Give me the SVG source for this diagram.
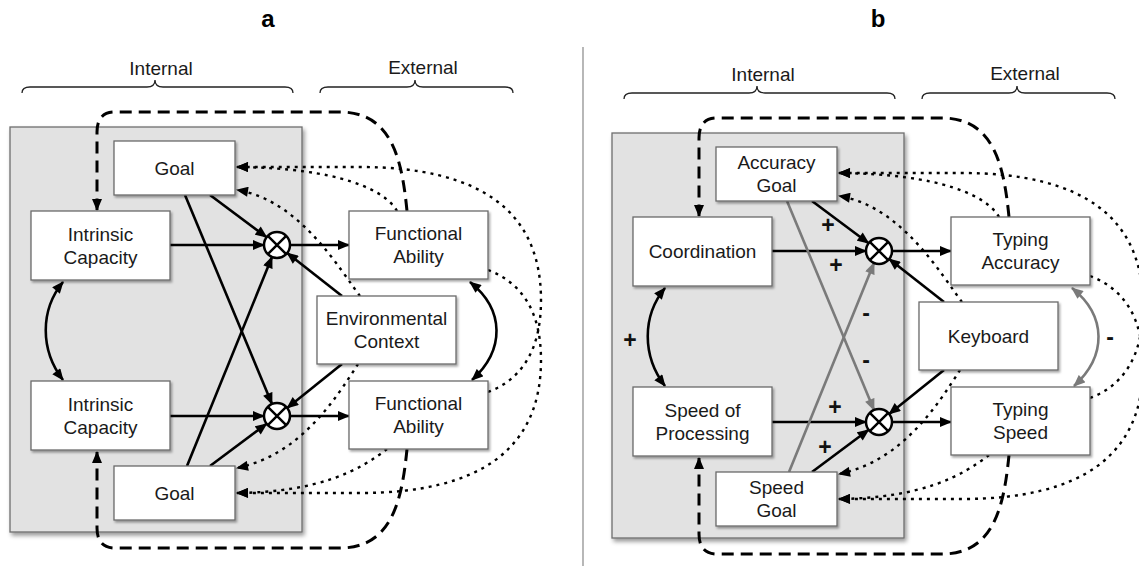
<svg xmlns="http://www.w3.org/2000/svg" width="1139" height="566" viewBox="0 0 1139 566">
<style>
.bg{fill:#fff}
.panel{fill:#e2e2e2;stroke:#6e6e6e;stroke-width:1.3;filter:url(#sh2)}
.box{fill:#fff;stroke:#6a6a6a;stroke-width:1.3;filter:url(#sh)}
.lbl{font-family:"Liberation Sans",Arial,Helvetica,sans-serif;font-size:19px;text-anchor:middle;fill:#1a1a1a}
.title{font-family:"Liberation Sans",Arial,Helvetica,sans-serif;font-size:24px;font-weight:bold;text-anchor:middle;fill:#000}
.sign{font-family:"Liberation Sans",Arial,Helvetica,sans-serif;font-size:23px;font-weight:bold;text-anchor:middle;fill:#111}
.brace{fill:none;stroke:#222;stroke-width:1.3}
.arr{fill:none;stroke:#000;stroke-width:2.6;marker-end:url(#ah)}
.garr{fill:none;stroke:#7a7a7a;stroke-width:2.6;marker-end:url(#gah)}
.dbl{fill:none;stroke:#000;stroke-width:2.6;marker-start:url(#ah);marker-end:url(#ah)}
.gdbl{fill:none;stroke:#7a7a7a;stroke-width:2.6;marker-start:url(#gah);marker-end:url(#gah)}
.dash{fill:none;stroke:#000;stroke-width:3;stroke-dasharray:12 7;marker-end:url(#ah)}
.dot{fill:none;stroke:#000;stroke-width:2.4;stroke-dasharray:3 5;marker-end:url(#ah)}
.mc{fill:#fff;stroke:#000;stroke-width:2.5}
.mx{stroke:#000;stroke-width:2.5}
</style>
<defs>
<marker id="ah" viewBox="0 0 12 10" refX="11" refY="5" markerWidth="13" markerHeight="10" markerUnits="userSpaceOnUse" orient="auto-start-reverse"><path d="M0,0 L12,5 L0,10 z" fill="#000"/></marker>
<marker id="gah" viewBox="0 0 12 10" refX="11" refY="5" markerWidth="13" markerHeight="10" markerUnits="userSpaceOnUse" orient="auto-start-reverse"><path d="M0,0 L12,5 L0,10 z" fill="#7a7a7a"/></marker>
<filter id="sh" x="-10%" y="-10%" width="130%" height="130%"><feDropShadow dx="1.5" dy="2" stdDeviation="1.2" flood-color="#000" flood-opacity="0.35"/></filter>
<filter id="sh2" x="-5%" y="-5%" width="115%" height="115%"><feDropShadow dx="2" dy="3" stdDeviation="2" flood-color="#000" flood-opacity="0.4"/></filter>
</defs>
<rect class="bg" x="0" y="0" width="1139" height="566"/>
<line x1="583" y1="47" x2="583" y2="566" stroke="#888" stroke-width="1.2"/>
<text class="title" x="268" y="27">a</text>
<text class="title" x="878" y="27">b</text>

<!-- Panel a -->
<g id="panel-a">
  <g id="a-headers">
    <text class="lbl" x="161" y="75">Internal</text>
    <path class="brace" d="M22,93 Q22,87 30,87 L147,87 Q155,87 155,80 Q155,87 163,87 L285,87 Q293,87 293,93"/>
    <text class="lbl" x="423" y="74">External</text>
    <path class="brace" d="M320,93 Q320,87 328,87 L407,87 Q415,87 415,80 Q415,87 423,87 L505,87 Q513,87 513,93"/>
  </g>
  <rect id="a-internal-panel" class="panel" x="10" y="127" width="292" height="405"/>
  <g id="a-connectors">
    <path class="arr" d="M170,245 L264,245"/>
    <path class="arr" d="M290,245 L349,245"/>
    <path class="arr" d="M170,416 L264,416"/>
    <path class="arr" d="M290,416 L349,416"/>
    <path class="arr" d="M210,195 L266.6,237.2"/>
    <path class="arr" d="M185,195 L272,404"/>
    <path class="arr" d="M187,466 L272,257"/>
    <path class="arr" d="M210,466 L266.6,423.8"/>
    <path class="arr" d="M342,296 L287.2,253"/>
    <path class="arr" d="M342,364 L287.2,407.9"/>
    <path class="dbl" d="M63,282 C40,310 40,350 63,380"/>
    <path class="dbl" d="M470,282 C505,310 505,350 472,380"/>
    <path class="dash" d="M407,211 C402,160 392,112 340,112 L115,112 Q97,112 97,132 L97,210"/>
    <path class="dash" d="M407,449 C402,500 392,548 340,548 L115,548 Q97,548 97,528 L97,452"/>
    <path class="dot" d="M397,211 C385,190 340,168 237,167"/>
    <path class="dot" d="M488,392 Q541,372 541,300 Q541,167 360,167 L237,167"/>
    <path class="dot" d="M488,270 Q541,290 541,360 Q541,493 360,493 L237,493"/>
    <path class="dot" d="M387,449 C360,470 320,492 237,493"/>
    <path class="dot" d="M360,296 C340,270 300,200 237,190"/>
    <path class="dot" d="M358,364 C335,400 300,455 237,468"/>
  </g>
  <g id="a-goal-top"><rect class="box" x="114" y="141" width="121" height="54"/><text class="lbl" x="174.5" y="175">Goal</text></g>
  <g id="a-ic-top"><rect class="box" x="31" y="211" width="139" height="69"/><text class="lbl" x="100.5" y="240.5">Intrinsic</text><text class="lbl" x="100.5" y="263.5">Capacity</text></g>
  <g id="a-fa-top"><rect class="box" x="349" y="211" width="139" height="68"/><text class="lbl" x="418.5" y="240">Functional</text><text class="lbl" x="418.5" y="263">Ability</text></g>
  <g id="a-env"><rect class="box" x="317" y="296" width="139" height="68"/><text class="lbl" x="386.5" y="325">Environmental</text><text class="lbl" x="386.5" y="348">Context</text></g>
  <g id="a-fa-bottom"><rect class="box" x="349" y="381" width="139" height="68"/><text class="lbl" x="418.5" y="410">Functional</text><text class="lbl" x="418.5" y="433">Ability</text></g>
  <g id="a-ic-bottom"><rect class="box" x="31" y="381" width="139" height="69"/><text class="lbl" x="100.5" y="410.5">Intrinsic</text><text class="lbl" x="100.5" y="433.5">Capacity</text></g>
  <g id="a-goal-bottom"><rect class="box" x="114" y="466" width="121" height="54"/><text class="lbl" x="174.5" y="500">Goal</text></g>
  <g id="a-mult-top" transform="translate(277,245)"><circle class="mc" r="13"/><path class="mx" d="M-9.2,-9.2 L9.2,9.2 M-9.2,9.2 L9.2,-9.2"/></g>
  <g id="a-mult-bottom" transform="translate(277,416)"><circle class="mc" r="13"/><path class="mx" d="M-9.2,-9.2 L9.2,9.2 M-9.2,9.2 L9.2,-9.2"/></g>
</g>

<!-- Panel b -->
<g id="panel-b" transform="translate(602,6)">
  <g id="b-headers">
    <text class="lbl" x="161" y="75">Internal</text>
    <path class="brace" d="M22,93 Q22,87 30,87 L147,87 Q155,87 155,80 Q155,87 163,87 L285,87 Q293,87 293,93"/>
    <text class="lbl" x="423" y="74">External</text>
    <path class="brace" d="M320,93 Q320,87 328,87 L407,87 Q415,87 415,80 Q415,87 423,87 L505,87 Q513,87 513,93"/>
  </g>
  <rect id="b-internal-panel" class="panel" x="10" y="127" width="292" height="405"/>
  <g id="b-connectors">
    <path class="arr" d="M170,245 L264,245"/>
    <path class="arr" d="M290,245 L349,245"/>
    <path class="arr" d="M170,416 L264,416"/>
    <path class="arr" d="M290,416 L349,416"/>
    <path class="arr" d="M210,195 L266.6,237.2"/>
    <path class="garr" d="M185,195 L272,404"/>
    <path class="garr" d="M187,466 L272,257"/>
    <path class="arr" d="M210,466 L266.6,423.8"/>
    <path class="arr" d="M342,296 L287.2,253"/>
    <path class="arr" d="M342,364 L287.2,407.9"/>
    <path class="dbl" d="M63,282 C40,310 40,350 63,380"/>
    <path class="gdbl" d="M470,282 C505,310 505,350 472,380"/>
    <path class="dash" d="M407,211 C402,160 392,112 340,112 L115,112 Q97,112 97,132 L97,210"/>
    <path class="dash" d="M407,449 C402,500 392,548 340,548 L115,548 Q97,548 97,528 L97,452"/>
    <path class="dot" d="M397,211 C385,190 340,168 237,167"/>
    <path class="dot" d="M488,392 Q541,372 541,300 Q541,167 360,167 L237,167"/>
    <path class="dot" d="M488,270 Q541,290 541,360 Q541,493 360,493 L237,493"/>
    <path class="dot" d="M387,449 C360,470 320,492 237,493"/>
    <path class="dot" d="M360,296 C340,270 300,200 237,190"/>
    <path class="dot" d="M358,364 C335,400 300,455 237,468"/>
  </g>
  <g id="b-signs">
    <text class="sign" x="226" y="227">+</text>
    <text class="sign" x="234" y="267">+</text>
    <text class="sign" x="264" y="315">-</text>
    <text class="sign" x="264" y="362">-</text>
    <text class="sign" x="233" y="409">+</text>
    <text class="sign" x="223" y="449">+</text>
    <text class="sign" x="28" y="342">+</text>
    <text class="sign" x="508" y="339">-</text>
  </g>
  <g id="b-accuracy-goal"><rect class="box" x="114" y="141" width="121" height="54"/><text class="lbl" x="174.5" y="163">Accuracy</text><text class="lbl" x="174.5" y="186">Goal</text></g>
  <g id="b-coordination"><rect class="box" x="31" y="211" width="139" height="69"/><text class="lbl" x="100.5" y="252">Coordination</text></g>
  <g id="b-typing-accuracy"><rect class="box" x="349" y="211" width="139" height="68"/><text class="lbl" x="418.5" y="240">Typing</text><text class="lbl" x="418.5" y="263">Accuracy</text></g>
  <g id="b-keyboard"><rect class="box" x="317" y="296" width="139" height="68"/><text class="lbl" x="386.5" y="337">Keyboard</text></g>
  <g id="b-typing-speed"><rect class="box" x="349" y="381" width="139" height="68"/><text class="lbl" x="418.5" y="410">Typing</text><text class="lbl" x="418.5" y="433">Speed</text></g>
  <g id="b-speed-processing"><rect class="box" x="31" y="381" width="139" height="69"/><text class="lbl" x="100.5" y="410.5">Speed of</text><text class="lbl" x="100.5" y="433.5">Processing</text></g>
  <g id="b-speed-goal"><rect class="box" x="114" y="466" width="121" height="54"/><text class="lbl" x="174.5" y="488">Speed</text><text class="lbl" x="174.5" y="511">Goal</text></g>
  <g id="b-mult-top" transform="translate(277,245)"><circle class="mc" r="13"/><path class="mx" d="M-9.2,-9.2 L9.2,9.2 M-9.2,9.2 L9.2,-9.2"/></g>
  <g id="b-mult-bottom" transform="translate(277,416)"><circle class="mc" r="13"/><path class="mx" d="M-9.2,-9.2 L9.2,9.2 M-9.2,9.2 L9.2,-9.2"/></g>
</g>
</svg>
